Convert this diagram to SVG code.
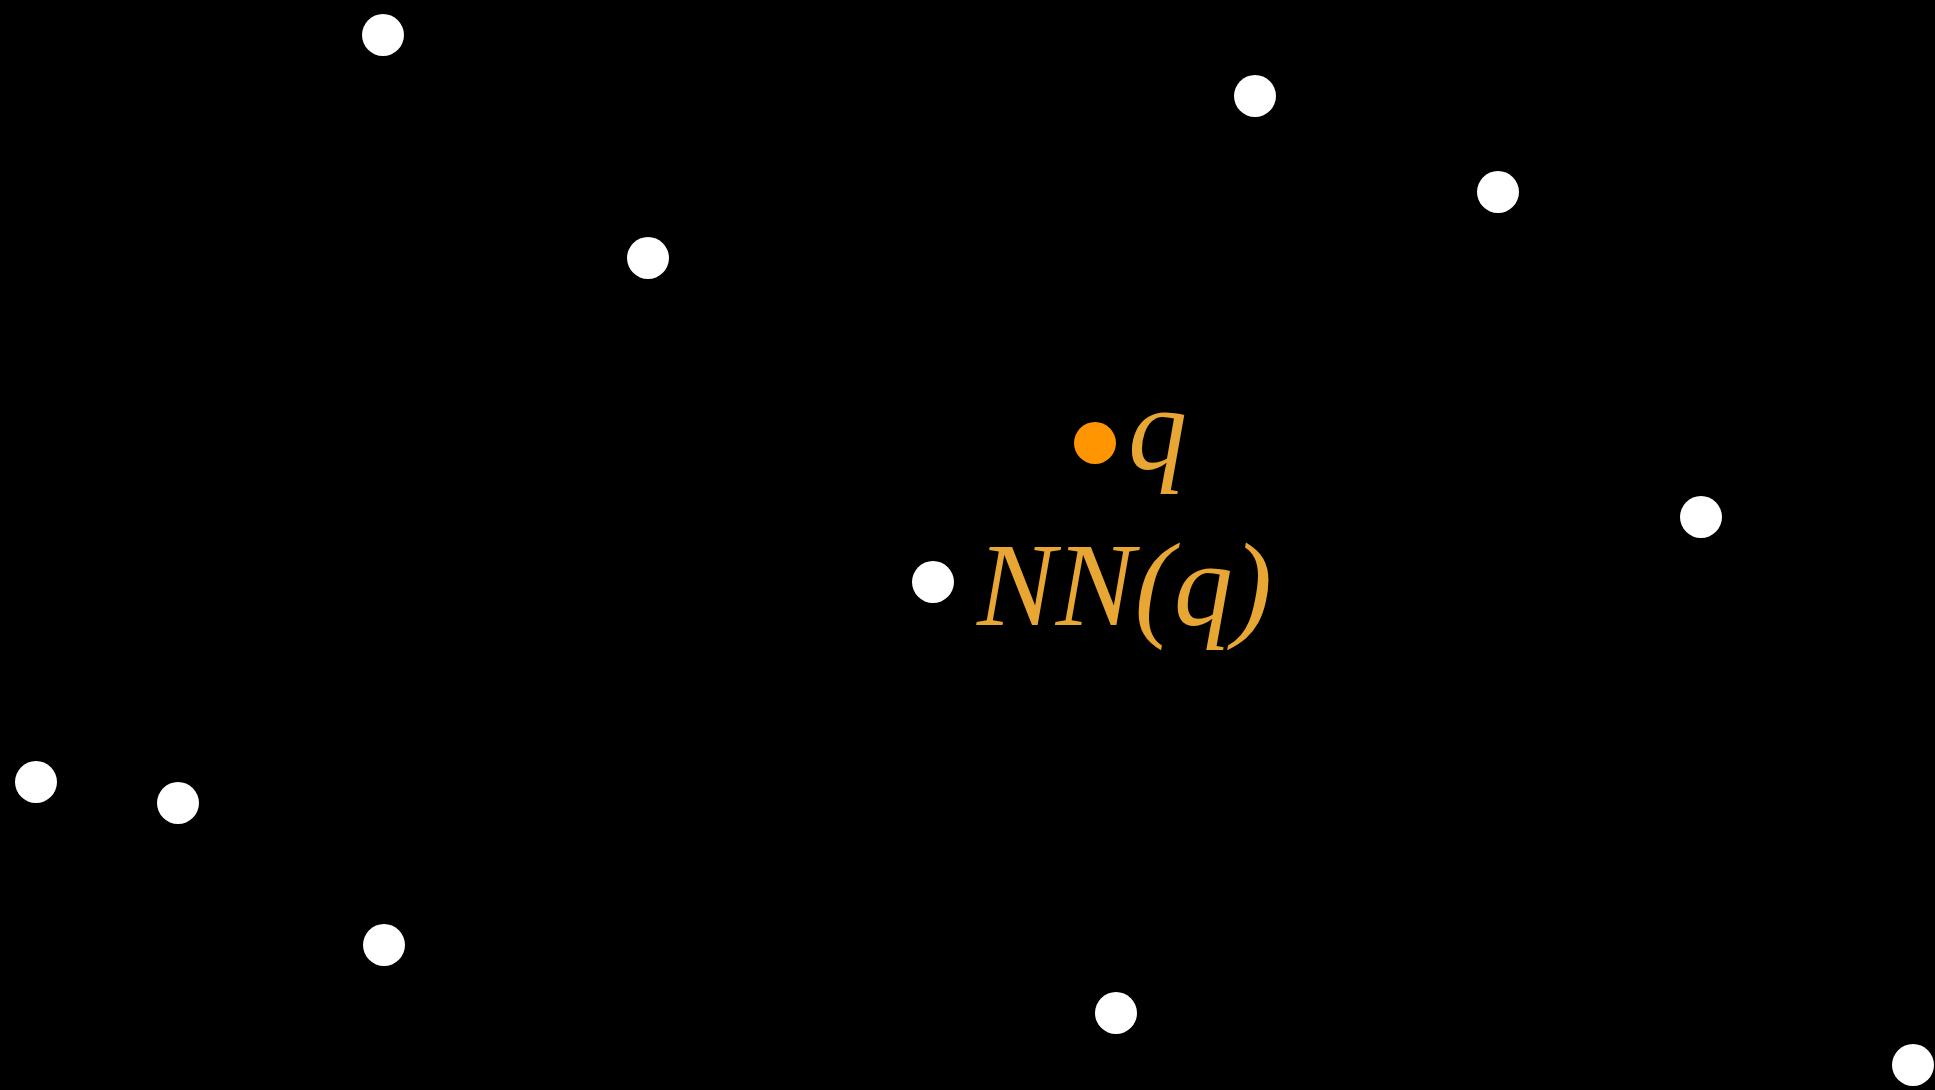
<svg xmlns="http://www.w3.org/2000/svg" width="1935" height="1090" viewBox="0 0 1935 1090">
<style>
.pt{fill:#ffffff}
.qd{fill:#ff9500}
</style>
<rect width="1935" height="1090" fill="#000000"/>
<g id="connectors"></g>
<g id="p1"><circle class="pt" cx="383" cy="35" r="21"/></g>
<g id="p2"><circle class="pt" cx="1255" cy="96" r="21"/></g>
<g id="p3"><circle class="pt" cx="1498" cy="192" r="21"/></g>
<g id="p4"><circle class="pt" cx="648" cy="258" r="21"/></g>
<g id="query"><circle class="qd" cx="1095" cy="443" r="21"/><text x="1128" y="469" font-family="Liberation Serif" font-style="italic" font-size="118" fill="#e8a634">q</text></g>
<g id="p5"><circle class="pt" cx="1701" cy="517" r="21"/></g>
<g id="nn"><circle class="pt" cx="933" cy="582" r="21"/><text x="977" y="625" font-family="Liberation Serif" font-style="italic" font-size="118" fill="#e8a634">NN(q)</text></g>
<g id="p6"><circle class="pt" cx="36" cy="782" r="21"/></g>
<g id="p7"><circle class="pt" cx="178" cy="803" r="21"/></g>
<g id="p8"><circle class="pt" cx="384" cy="945" r="21"/></g>
<g id="p9"><circle class="pt" cx="1116" cy="1013" r="21"/></g>
<g id="p10"><circle class="pt" cx="1913" cy="1065" r="21"/></g>
</svg>
